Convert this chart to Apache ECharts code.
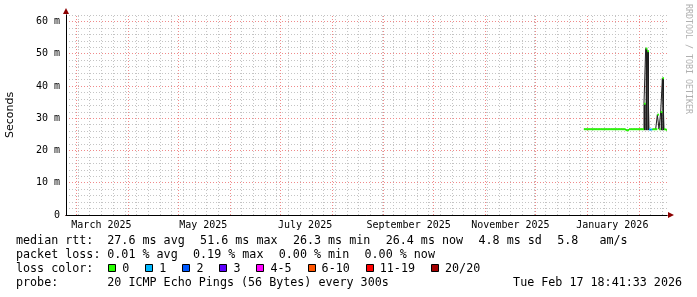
<!DOCTYPE html>
<html>
<head>
<meta charset="utf-8">
<script src="https://cdn.jsdelivr.net/npm/echarts@6/dist/echarts.min.js"></script>
<style>html,body{margin:0;padding:0;background:#ffffff}#c{width:697px;height:297px}</style>
</head>
<body>
<div id="c"></div>
<script>
// ---------------- data ----------------
const rangeStart = '2025-02-22T18:41:33Z';
const rangeEnd = '2026-02-17T18:41:33Z';

const days = [
  '2025-12-30','2025-12-31',
  '2026-01-01','2026-01-02','2026-01-03','2026-01-04','2026-01-05','2026-01-06','2026-01-07','2026-01-08',
  '2026-01-09','2026-01-10','2026-01-11','2026-01-12','2026-01-13','2026-01-14','2026-01-15','2026-01-16',
  '2026-01-17','2026-01-18','2026-01-19','2026-01-20','2026-01-21','2026-01-22','2026-01-23','2026-01-24',
  '2026-01-25','2026-01-26','2026-01-27','2026-01-28','2026-01-29','2026-01-30','2026-01-31',
  '2026-02-01','2026-02-02','2026-02-03','2026-02-04','2026-02-05','2026-02-06','2026-02-07','2026-02-08',
  '2026-02-09','2026-02-10','2026-02-11','2026-02-12','2026-02-13','2026-02-14','2026-02-15','2026-02-16',
  '2026-02-17'
];
// median rtt in ms
const median = [
  26.6, 26.6,
  26.6, 26.6, 26.6, 26.6, 26.6, 26.6, 26.6, 26.6,
  26.6, 26.6, 26.6, 26.6, 26.6, 26.6, 26.6, 26.6,
  26.6, 26.6, 26.6, 26.6, 26.6, 26.6, 26.6, 26.3,
  26.3, 26.6, 26.6, 26.6, 26.6, 26.6, 26.6,
  26.6, 26.6, 26.6, 34.5, 51.6, 50.8, 26.5, 26.5,
  26.6, 26.6, 26.6, 31.1, 26.6, 31.9, 42.4, 26.6,
  26.4
];
// lost pings (of 20)
const loss = [
  0, 0,
  0, 0, 0, 0, 0, 0, 0, 0,
  0, 0, 0, 0, 0, 0, 0, 0,
  0, 0, 0, 0, 0, 0, 0, 0,
  0, 0, 0, 0, 0, 0, 0,
  0, 0, 0, 0, 0, 0, 1, 1,
  0, 0, 0, 0, 0, 0, 0, 0,
  0
];
// dark "smoke" (ping spread) on the spike days
const smokeDays = ['2026-02-04', '2026-02-05', '2026-02-06', '2026-02-14', '2026-02-15'];
const smokeLow = [26.3, 26.3, 26.3, 26.3, 26.3];
const smokeHigh = [34.5, 51.6, 50.8, 31.9, 42.4];

const lossLabels = ['0', '1', '2', '3', '4-5', '6-10', '11-19', '20/20'];
const lossUpper = [0, 1, 2, 3, 5, 10, 19, 20];
const lossColors = ['#26ff00', '#00b8ff', '#0059ff', '#5e00ff', '#ff00ff', '#ff5500', '#ff0000', '#a10000'];

const yTickValues = [0, 10, 20, 30, 40, 50, 60];
const yTickLabels = ['0', '10 m', '20 m', '30 m', '40 m', '50 m', '60 m'];
const xTickDates = ['2025-03-16', '2025-05-16', '2025-07-16', '2025-09-16', '2025-11-16', '2026-01-16'];
const xTickLabels = ['March 2025', 'May 2025', 'July 2025', 'September 2025', 'November 2025', 'January 2026'];

const rttStats = ['27.6 ms avg', '51.6 ms max', '26.3 ms min', '26.4 ms now', '4.8 ms sd', '5.8   am/s'];
const lossStats = ['0.01 % avg', '0.19 % max', '0.00 % min', '0.00 % now'];
const probeText = '20 ICMP Echo Pings (56 Bytes) every 300s';
const stampText = 'Tue Feb 17 18:41:33 2026';
const rowLabels = ['median rtt:', 'packet loss:', 'loss color:', 'probe:'];
const creditText = 'RRDTOOL / TOBI OETIKER';

// ---------------- derived ----------------
const DAY = 86400000;
const T0 = Date.parse(rangeStart);
const T1 = Date.parse(rangeEnd);
const ts = d => Date.parse(d + 'T00:00:00Z');

function lossColor(l) {
  for (let i = 0; i < lossUpper.length; i++) if (l <= lossUpper[i]) return lossColors[i];
  return lossColors[lossColors.length - 1];
}

const xTickTs = xTickDates.map(ts);
function xLabel(v) {
  for (let i = 0; i < xTickTs.length; i++) if (Math.abs(xTickTs[i] - v) < 1000) return xTickLabels[i];
  return '';
}
function yLabel(v) {
  for (let i = 0; i < yTickValues.length; i++) if (Math.abs(yTickValues[i] - v) < 1e-6) return yTickLabels[i];
  return '';
}

// grid positions (month starts and Sundays)
const monthStarts = [];
for (let m = 0; ; m++) {
  const t = Date.UTC(2025 + Math.floor(m / 12), m % 12, 1);
  if (t > T1) break;
  if (t > T0) monthStarts.push(t);
}
const sundays = [];
for (let t = Date.UTC(2025, 1, 23); t < T1; t += 7 * DAY) sundays.push(t);

const lineData = days.map((d, i) => [ts(d), median[i]]);
lineData.push([T1, median[median.length - 1]]);
const bandData = days.map((d, i) => [ts(d), median[i], loss[i]]);
const smokeData = smokeDays.map((d, i) => [ts(d), smokeLow[i], smokeHigh[i]]);

// ---------------- legend layout ----------------
const MONO = '"DejaVu Sans Mono", "Liberation Mono", monospace';
const FS = 11.7, CW = 7.045, GAP = 15.3, X0 = 16, VX = 107.3;
const rowY = [241, 255, 269, 283];
const graphics = [];
function txt(x, y, s, align) {
  graphics.push({
    type: 'text', x: x, y: y, silent: true,
    style: { text: s, font: FS + 'px ' + MONO, fill: '#000', align: align || 'left', verticalAlign: 'middle',
             textAlign: align || 'left', textVerticalAlign: 'middle' }
  });
}
rowLabels.forEach((s, i) => txt(X0, rowY[i], s));
let x = VX;
rttStats.forEach(s => { txt(x, rowY[0], s); x += s.length * CW + GAP; });
x = VX;
lossStats.forEach(s => { txt(x, rowY[1], s); x += s.length * CW + GAP; });
x = 108.3;
lossLabels.forEach((s, i) => {
  graphics.push({ type: 'rect', silent: true, shape: { x: Math.round(x) + 0.5, y: 264.5, width: 7, height: 7 },
                  style: { fill: lossColors[i], stroke: '#000', lineWidth: 1 } });
  txt(x + 14, rowY[2], s);
  x += 14 + s.length * CW + 16;
});
txt(VX, rowY[3], probeText);
txt(682, rowY[3], stampText, 'right');
graphics.push({
  type: 'text', x: 688, y: 59, rotation: -Math.PI / 2, silent: true,
  style: { text: creditText, font: '8.3px ' + MONO, fill: '#b0b0b0', align: 'center', verticalAlign: 'middle',
           textAlign: 'center', textVerticalAlign: 'middle' }
});

// ---------------- chart ----------------
const GRAY = '#c4c4c4', RED = '#f08a8a', ARROW = '#8b0000', DASH = [1, 2];
const chart = echarts.init(document.getElementById('c'), null, { renderer: 'canvas', width: 697, height: 297 });

function gridSeries(name, color, z, data) {
  return {
    name: name, type: 'line', data: [], xAxisIndex: 0, yAxisIndex: 0, silent: true, z: z,
    markLine: {
      silent: true, symbol: ['none', 'none'], label: { show: false }, animation: false, z: z,
      lineStyle: { color: color, width: 1, type: DASH },
      emphasis: { disabled: true },
      data: data
    }
  };
}

const option = {
  animation: false,
  backgroundColor: '#ffffff',
  grid: { left: 66, top: 15, width: 601, height: 200, containLabel: false, outerBoundsMode: 'none' },
  xAxis: [
    {
      type: 'value', min: T0, max: T1, position: 'bottom', z: 20, scale: true,
      axisLine: { show: true, onZero: false, lineStyle: { color: '#000', width: 1 } },
      axisTick: { show: false },
      splitLine: { show: false },
      axisLabel: {
        customValues: xTickTs,
        formatter: v => xLabel(v),
        color: '#000', fontFamily: MONO, fontSize: 10, margin: 5,
        hideOverlap: false, showMinLabel: true, showMaxLabel: true
      }
    },
    {
      type: 'value', min: T0, max: T1, position: 'bottom', z: 1, scale: true,
      axisLine: { show: true, onZero: false, symbol: ['none', 'triangle'], symbolSize: [6, 6], symbolOffset: [0, 4],
                  lineStyle: { color: ARROW, width: 1 } },
      axisTick: { show: false }, axisLabel: { show: false }, splitLine: { show: false }
    }
  ],
  yAxis: [
    {
      type: 'value', min: 0, max: 62, interval: 2, position: 'left', z: 20,
      name: 'Seconds', nameLocation: 'middle', nameGap: 50, nameRotate: 90,
      nameTextStyle: { fontFamily: '"DejaVu Sans", sans-serif', fontSize: 11, color: '#000' },
      axisLine: { show: true, onZero: false, lineStyle: { color: '#000', width: 1 } },
      axisTick: { show: false },
      splitLine: { show: false },
      axisLabel: {
        customValues: yTickValues,
        formatter: v => yLabel(v),
        color: '#000', fontFamily: MONO, fontSize: 10, margin: 6,
        showMinLabel: true, showMaxLabel: true
      }
    },
    {
      type: 'value', min: 0, max: 62, interval: 2, position: 'left', z: 0,
      axisLine: { show: true, onZero: false, symbol: ['none', 'triangle'], symbolSize: [6, 6], symbolOffset: [0, 4],
                  lineStyle: { color: ARROW, width: 1 } },
      axisTick: { show: false }, axisLabel: { show: false },
      splitLine: { show: true, lineStyle: { color: GRAY, width: 1, type: DASH } }
    }
  ],
  graphic: graphics,
  series: [
    gridSeries('weekgrid', GRAY, 1, sundays.map(t => ({ xAxis: t }))),
    gridSeries('monthgrid', RED, 2, monthStarts.map(t => ({ xAxis: t }))),
    gridSeries('ygrid', RED, 2, yTickValues.filter(v => v > 0).map(v => ({ yAxis: v }))),
    {
      name: 'smoke', type: 'custom', data: smokeData, xAxisIndex: 0, yAxisIndex: 0, z: 9, silent: true, clip: true,
      dimensions: ['t', 'lo', 'hi'], encode: { x: 0, y: [1, 2] },
      renderItem: function (params, api) {
        const t = api.value(0), lo = api.value(1), hi = api.value(2);
        const a = api.coord([t, hi]);
        const b = api.coord([Math.min(t + DAY, T1), lo]);
        return { type: 'rect', shape: { x: a[0], y: a[1], width: b[0] - a[0], height: b[1] - a[1] },
                 style: { fill: '#1c1c1c' } };
      }
    },
    {
      name: 'median', type: 'line', step: 'end', data: lineData, xAxisIndex: 0, yAxisIndex: 0,
      symbol: 'none', z: 10, silent: true,
      lineStyle: { color: '#202020', width: 1 }
    },
    {
      name: 'loss', type: 'custom', data: bandData, xAxisIndex: 0, yAxisIndex: 0, z: 11, silent: true, clip: true,
      dimensions: ['t', 'v', 'l'], encode: { x: 0, y: 1 },
      renderItem: function (params, api) {
        const t = api.value(0), v = api.value(1), l = api.value(2);
        const a = api.coord([t, v]);
        const b = api.coord([Math.min(t + DAY, T1), v]);
        return { type: 'rect', shape: { x: a[0], y: a[1] - 1, width: b[0] - a[0], height: 2 },
                 style: { fill: lossColor(l) } };
      }
    }
  ]
};
chart.setOption(option);
</script>
</body>
</html>
